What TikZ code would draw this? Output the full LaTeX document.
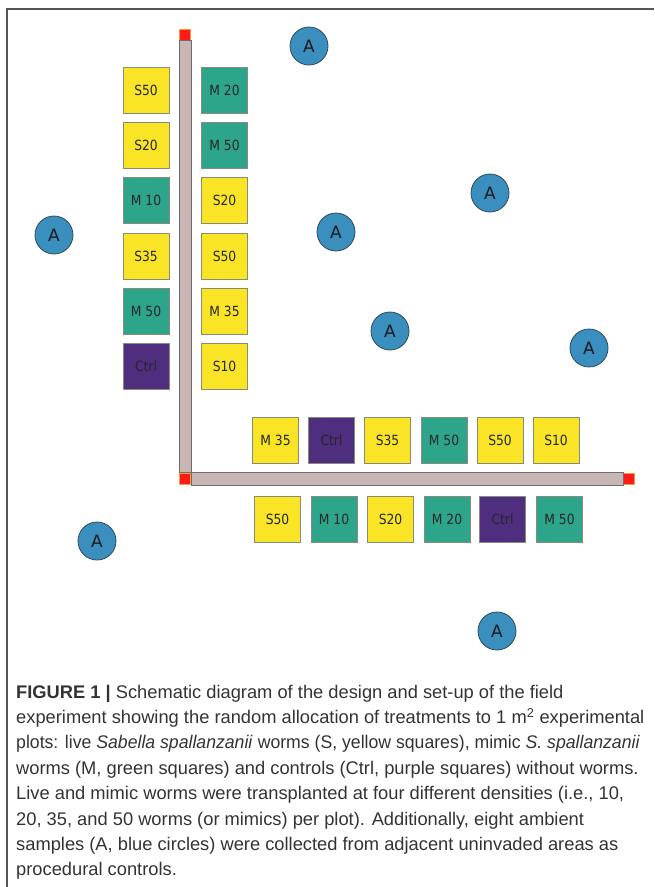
\documentclass[tikz,border=0pt]{standalone}
\usepackage{fontspec}
\setmainfont{Liberation Sans}
\newfontfamily\plotfont[FakeStretch=0.88]{DejaVu Sans}
\newfontfamily\ambfont{DejaVu Sans}
\usepackage{xcolor}
\usepackage{tikz}
\usetikzlibrary{positioning}
\definecolor{liveyellow}{HTML}{F9E526}
\definecolor{mimicgreen}{HTML}{2CA58A}
\definecolor{ctrlpurple}{HTML}{4F2D7F}
\definecolor{ambblue}{HTML}{3A8FBF}
\definecolor{ambedge}{HTML}{2E4A5A}
\definecolor{boxedge}{HTML}{8A8A7A}
\definecolor{railpink}{HTML}{C8B6B6}
\definecolor{railedge}{HTML}{6E6E6E}
\definecolor{pegred}{HTML}{FF1A1A}
\definecolor{pegedge}{HTML}{F0A030}
\definecolor{framegray}{HTML}{555555}

\begin{document}
\begin{tikzpicture}[x=1pt, y=-1pt,
  quad/.style={draw=boxedge, line width=0.7pt, minimum size=46pt, inner sep=0pt,
    font=\plotfont\fontsize{14}{14}\selectfont, text=black!85},
  livebox/.style={quad, fill=liveyellow},
  mimicbox/.style={quad, fill=mimicgreen},
  ctrlbox/.style={quad, fill=ctrlpurple},
  ambient/.style={draw=ambedge, line width=0.8pt, circle, fill=ambblue, minimum size=38pt,
    inner sep=0pt, font=\ambfont\fontsize{17}{17}\selectfont, text=black!90},
  peg/.style={draw=pegedge, fill=pegred, line width=0.8pt, minimum size=11pt, inner sep=0pt},
  rail/.style={draw=railedge, fill=railpink, line width=0.8pt},
  captext/.style={anchor=base west, inner sep=0pt, font=\fontsize{18.3}{22}\selectfont, text=black!80}]
  \useasboundingbox (0,0) rectangle (654,887);

  % Frame
  \draw[framegray, line width=1.8pt] (7,887) -- (7,9) -- (654,9);

  % Transect rails and end pegs
  \node[peg] (pegN) at (185,34.5) {};
  \node[peg] (pegO) at (185,478.5) {};
  \node[peg] (pegE) at (629,479) {};
  \draw[rail] (pegN.south west) rectangle (pegO.north east);
  \draw[rail] (pegO.north east) rectangle (pegE.south west);

  % Plots, left of the vertical rail
  \node[livebox]  (l1) at (146,90.5) {S50};
  \node[livebox]  (l2) at (146,145.5) {S20};
  \node[mimicbox] (l3) at (146,200.5) {M 10};
  \node[livebox]  (l4) at (146,256) {S35};
  \node[mimicbox] (l5) at (146,311) {M 50};
  \node[ctrlbox]  (l6) at (146,366) {Ctrl};

  % Plots, right of the vertical rail
  \node[mimicbox] (r1) at (224.5,90.5) {M 20};
  \node[mimicbox] (r2) at (224.5,145.5) {M 50};
  \node[livebox]  (r3) at (224.5,200.5) {S20};
  \node[livebox]  (r4) at (224.5,256) {S50};
  \node[livebox]  (r5) at (224.5,311) {M 35};
  \node[livebox]  (r6) at (224.5,366) {S10};

  % Plots, above the horizontal rail
  \node[livebox]  (u1) at (275.5,440) {M 35};
  \node[ctrlbox]  (u2) at (331.5,440) {Ctrl};
  \node[livebox]  (u3) at (387.5,440) {S35};
  \node[mimicbox] (u4) at (444,440) {M 50};
  \node[livebox]  (u5) at (500,440) {S50};
  \node[livebox]  (u6) at (556,440) {S10};

  % Plots, below the horizontal rail
  \node[livebox]  (d1) at (277.5,519) {S50};
  \node[mimicbox] (d2) at (334,519) {M 10};
  \node[livebox]  (d3) at (390.5,519) {S20};
  \node[mimicbox] (d4) at (447,519) {M 20};
  \node[ctrlbox]  (d5) at (502.5,519) {Ctrl};
  \node[mimicbox] (d6) at (559.5,519) {M 50};

  % Ambient samples
  \node[ambient] (a1) at (309,46) {A};
  \node[ambient] (a2) at (490,193) {A};
  \node[ambient] (a3) at (54,235) {A};
  \node[ambient] (a4) at (336,232) {A};
  \node[ambient] (a5) at (390,331) {A};
  \node[ambient] (a6) at (589,348) {A};
  \node[ambient] (a7) at (97,541) {A};
  \node[ambient] (a8) at (497,631) {A};

  % Caption
  \node[captext] (fig1) at (16,698) {\textbf{FIGURE 1 |} Schematic diagram of the design and set-up of the field};
  \node[captext] (fig2) at (16,723.4) {experiment showing the random allocation of treatments to 1 m\textsuperscript{2} experimental};
  \node[captext] (fig3) at (16,748.8) {\scalebox{0.965}[1]{plots: live \textit{Sabella spallanzanii} worms (S, yellow squares), mimic \textit{S. spallanzanii}}};
  \node[captext] (fig4) at (16,774.2) {worms (M, green squares) and controls (Ctrl, purple squares) without worms.};
  \node[captext] (fig5) at (16,799.6) {Live and mimic worms were transplanted at four different densities (i.e., 10,};
  \node[captext] (fig6) at (16,825) {20, 35, and 50 worms (or mimics) per plot). Additionally, eight ambient};
  \node[captext] (fig7) at (16,850.4) {samples (A, blue circles) were collected from adjacent uninvaded areas as};
  \node[captext] (fig8) at (16,875.8) {procedural controls.};
\end{tikzpicture}
\end{document}
